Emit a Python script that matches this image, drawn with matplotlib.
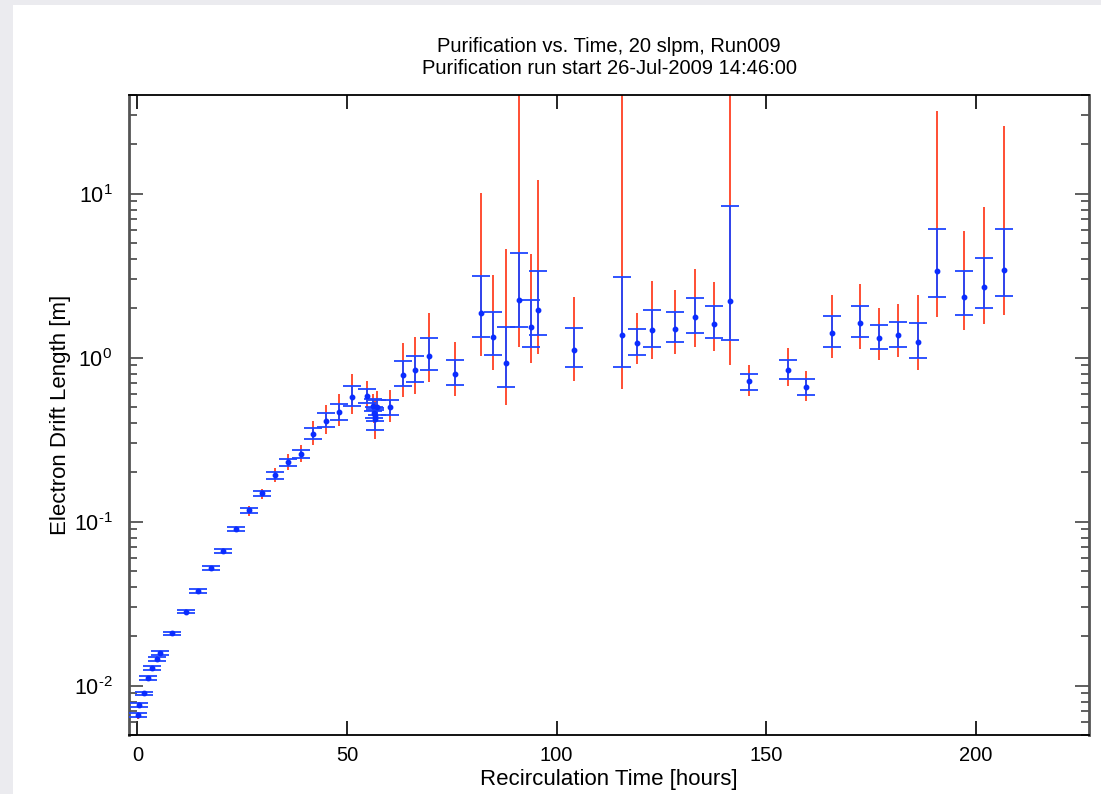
import numpy as np
import matplotlib
matplotlib.use('Agg')
from matplotlib import pyplot as plt
from matplotlib.patches import Rectangle
from matplotlib.ticker import FixedLocator, FuncFormatter, LogLocator, NullFormatter

plt.rcParams['font.family'] = ['Liberation Sans', 'DejaVu Sans']
plt.rcParams['mathtext.default'] = 'regular'

# recirculation time [hours] and drift length [m]
hours = [0.1, 0.3, 1.5, 2.5, 3.6, 4.6, 5.3, 8.3, 11.5, 14.4, 17.5, 20.5, 23.5, 26.7,
         29.7, 32.8, 35.9, 39.0, 41.9, 44.9, 48.1, 51.1, 54.7,
         56.3, 57.2, 56.5, 56.8, 56.6,
         60.2, 63.4, 66.3, 69.6, 75.8, 81.9, 84.9, 87.9, 91.0, 94.0, 95.5, 104.1,
         115.7, 119.2, 122.8, 128.3, 133.0, 137.6, 141.4, 145.8, 155.2, 159.6,
         165.7, 172.4, 176.8, 181.5, 186.2, 190.8, 197.3, 202.0, 206.8]
drift = [0.0066, 0.0076, 0.0090, 0.0111, 0.0128, 0.0146, 0.0158, 0.0208, 0.0283, 0.0378,
         0.0519, 0.0667, 0.0897, 0.117, 0.150, 0.192, 0.231, 0.260, 0.343, 0.413, 0.467,
         0.578, 0.586,
         0.51, 0.50, 0.46, 0.44, 0.42,
         0.50, 0.785, 0.841, 1.03, 0.795, 1.87, 1.34, 0.932, 2.26, 1.53, 1.96, 1.11,
         1.37, 1.23, 1.48, 1.50, 1.77, 1.60, 2.23, 0.717, 0.841, 0.659,
         1.42, 1.62, 1.32, 1.37, 1.25, 3.38, 2.35, 2.68, 3.44]

# inner (blue) error range
blue_lo = [0.0064, 0.0074, 0.0088, 0.0108, 0.0125, 0.0142, 0.0154, 0.0203, 0.0276, 0.0368,
           0.0504, 0.0648, 0.0878, 0.113, 0.143, 0.183, 0.219, 0.245, 0.318, 0.380, 0.419,
           0.505, 0.526,
           0.47, 0.45, 0.43, 0.41, 0.36,
           0.446, 0.668, 0.711, 0.841, 0.678, 1.34, 1.04, 0.665, 1.53, 1.16, 1.37, 0.881,
           0.881, 1.04, 1.17, 1.25, 1.42, 1.31, 1.29, 0.638, 0.742, 0.595,
           1.17, 1.34, 1.13, 1.16, 1.00, 2.35, 1.81, 2.01, 2.39]
blue_hi = [0.0068, 0.0078, 0.0092, 0.0114, 0.0131, 0.0150, 0.0162, 0.0213, 0.0290, 0.0388,
           0.0534, 0.0686, 0.0923, 0.121, 0.154, 0.200, 0.241, 0.275, 0.375, 0.458, 0.522,
           0.668, 0.647,
           0.56, 0.55, 0.50, 0.48, 0.49,
           0.555, 0.959, 1.03, 1.32, 0.972, 3.15, 1.90, 1.545, 4.33, 2.26, 3.39, 1.51,
           3.10, 1.49, 1.95, 1.90, 2.32, 2.07, 8.43, 0.795, 0.972, 0.737,
           1.79, 2.07, 1.59, 1.66, 1.63, 6.13, 3.39, 4.03, 6.06]

# outer (red) error range
red_lo = [0.0063, 0.0073, 0.0087, 0.0107, 0.0124, 0.0141, 0.0153, 0.0201, 0.0274, 0.0365,
          0.0500, 0.0642, 0.0861, 0.109, 0.138, 0.174, 0.207, 0.230, 0.295, 0.344, 0.381,
          0.456, 0.493,
          0.44, 0.42, 0.40, 0.38, 0.32,
          0.405, 0.573, 0.603, 0.707, 0.58, 1.02, 0.845, 0.517, 1.16, 0.923, 1.06, 0.724,
          0.644, 0.915, 0.98, 1.06, 1.16, 1.10, 0.898, 0.58, 0.668, 0.541,
          0.996, 1.13, 0.963, 1.01, 0.837, 1.78, 1.47, 1.60, 1.83]
red_hi = [0.0069, 0.0079, 0.0093, 0.0115, 0.0132, 0.0151, 0.0163, 0.0215, 0.0292, 0.0391,
          0.0538, 0.0692, 0.0936, 0.124, 0.159, 0.213, 0.260, 0.292, 0.409, 0.517, 0.600,
          0.799, 0.724,
          0.60, 0.63, 0.54, 0.52, 0.56,
          0.632, 1.23, 1.34, 1.87, 1.25, 10.08, 3.2, 4.6, 100.0, 4.3, 12.2, 2.36,
          100.0, 1.87, 2.95, 2.6, 3.47, 2.9, 100.0, 0.906, 1.15, 0.833,
          2.40, 2.83, 2.01, 2.13, 2.40, 31.8, 5.89, 8.26, 26.0]

x = np.array(hours)
y = np.array(drift)
blue_err = [y - np.array(blue_lo), np.array(blue_hi) - y]
red_err = [y - np.array(red_lo), np.array(red_hi) - y]


def pow_label(v, pos):
    e = int(round(np.log10(v)))
    # short hyphen for the exponent sign, like the original plot
    return r'$10^{%s}$' % (('\u2010%d' % -e) if e < 0 else '%d' % e)


fig = plt.figure(figsize=(11.01, 7.94), dpi=100, facecolor='#ebebef')
fig.patches.append(Rectangle((13 / 1101, 0), 1, 789 / 794, transform=fig.transFigure,
                             facecolor='white', edgecolor='none', zorder=-10))
ax = fig.add_axes([129 / 1101, 59 / 794, 960 / 1101, 640 / 794])
ax.set_zorder(5)

ax.errorbar(x, y, yerr=red_err, fmt='none', ecolor='#ff3010', elinewidth=1.2, zorder=2)
ax.errorbar(x, y, yerr=blue_err, fmt='o', color='#0a2cff', ms=3.2, ecolor='#1f45ff',
            elinewidth=1.3, capsize=6.5, capthick=1.3, zorder=3)

ax.set_yscale('log')
ax.set_ylim(0.005, 40)
ax.set_xlim(-2, 227)

ax.xaxis.set_major_locator(FixedLocator([0, 50, 100, 150, 200]))
ax.yaxis.set_major_locator(LogLocator(base=10))
ax.yaxis.set_minor_locator(LogLocator(base=10, subs=np.arange(2, 10)))
ax.yaxis.set_minor_formatter(NullFormatter())
ax.yaxis.set_major_formatter(FuncFormatter(pow_label))

ax.tick_params(axis='both', which='major', direction='in', length=10, width=1.2,
               labelsize=14.5, top=True, right=True, pad=8)
ax.tick_params(axis='y', which='major', labelsize=15.5, pad=12, color='#444444')
ax.tick_params(axis='y', which='minor', direction='in', length=6, width=1.2, right=True,
               color='#444444')

for side in ['left', 'right']:
    ax.spines[side].set_color('#555555')
    ax.spines[side].set_linewidth(2)
for side in ['top', 'bottom']:
    ax.spines[side].set_color('black')
    ax.spines[side].set_linewidth(1.3)

ax.set_title('Purification vs. Time, 20 slpm, Run009\nPurification run start 26-Jul-2009 14:46:00',
             fontsize=14.5, pad=15, linespacing=1.2)
ax.set_xlabel('Recirculation Time [hours]', fontsize=16, labelpad=3)
ax.set_ylabel('Electron Drift Length [m]', fontsize=16)
ax.yaxis.set_label_coords(-0.06, 0.5)

plt.savefig('out.png', dpi=100, facecolor=fig.get_facecolor())
